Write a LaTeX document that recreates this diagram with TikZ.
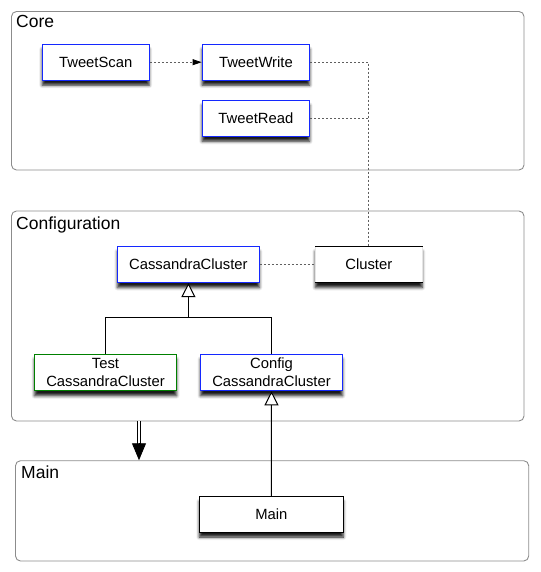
\documentclass[tikz,border=0pt]{standalone}
\usepackage{fontspec}
\setmainfont{Liberation Sans}
\usetikzlibrary{arrows.meta,shadows.blur,calc}
\definecolor{umlblue}{RGB}{20,40,255}
\definecolor{umlgreen}{RGB}{0,128,0}
\definecolor{grpgray}{RGB}{140,140,140}
\definecolor{dotgray}{RGB}{95,95,95}
\begin{document}
\begin{tikzpicture}[x=1pt,y=-1pt,
 grp/.style={draw=grpgray, line width=0.9pt, rounded corners=5pt, inner sep=0pt},
 grptitle/.style={anchor=base west, font=\fontsize{17.5}{20}\selectfont, inner sep=0pt},
 cls/.style={draw, fill=white, line width=1.1pt, minimum height=36pt, inner sep=0pt,
   font=\fontsize{14.8}{18}\selectfont, align=center,
   blur shadow={shadow xshift=0pt, shadow yshift=-5pt, shadow blur radius=3pt, shadow opacity=90}},
 bluecls/.style={cls, draw=umlblue},
 greencls/.style={cls, draw=umlgreen},
 dep/.style={dotgray, line width=0.8pt, dash pattern=on 2pt off 2pt},
 gen/.style={line width=1pt, -{Triangle[open, length=14pt, width=14pt, fill=white]}}
]
\useasboundingbox (0,0) rectangle (540,572);

% groups
\node[grp, minimum width=512.5pt, minimum height=158.5pt] (core) at (267.75,90.75) {};
\node[grp, minimum width=512.5pt, minimum height=210pt] (cfg) at (267.75,316) {};
\node[grp, minimum width=513.2pt, minimum height=100.3pt] (maing) at (272.1,510.85) {};
\node[grptitle] (coret) at (16,28) {Core};
\node[grptitle] (cfgt) at (16,229) {Configuration};
\node[grptitle] (maingt) at (21,478.7) {Main};

% classes
\node[bluecls, minimum width=107pt] (ts) at (95.7,62.2) {TweetScan};
\node[bluecls, minimum width=107.5pt] (tw) at (255.9,62.2) {TweetWrite};
\node[bluecls, minimum width=107.5pt] (tr) at (255.9,118.3) {TweetRead};
\node[bluecls, minimum width=142pt] (cc) at (188.4,264.5) {CassandraCluster};
\node[cls, draw=gray!20, line width=0.6pt, minimum width=107pt] (cl) at (368.8,264.5) {Cluster};
\draw[line width=1pt] (cl.north west) -- (cl.north east) (cl.south west) -- (cl.south east);
\node[greencls, minimum width=142pt, minimum height=36.5pt] (test) at (105.5,372.5) {Test\\CassandraCluster};
\node[bluecls, minimum width=142pt, minimum height=36.5pt] (conf) at (271.5,372.5) {Config\\CassandraCluster};
\node[cls, minimum width=144pt, minimum height=35.5pt] (main) at (271.3,514.3) {Main};

% dependencies
\draw[dep, -{Triangle[length=9pt, width=6pt, black]}] (ts.east) -- (tw.west);
\coordinate (bend) at (cl.north |- tw.east);
\draw[dep] (tw.east) -- (bend) -- (cl.north);
\draw[dep] (tr.east) -- (tr.east -| cl.north);
\draw[dep] (cc.east) -- (cl.west);

% generalizations
\coordinate (junc) at (188.4,317.7);
\draw[line width=1pt] (test.north) |- (junc) -| (conf.north);
\draw[gen] (junc) -- (cc.south);
\draw[gen] (main.north) -- (conf.south);

% package dependency (double arrow)
\coordinate (da) at (cfg.south -| 139,0);
\coordinate (db) at (maing.north -| 139,0);
\draw[line width=0.9pt, double, double distance=2.6pt, shorten >=15pt] (da) -- (db);
\draw[line width=0.9pt, -{Triangle[length=17pt, width=14pt]}] ($(db)+(0,-17)$) -- (db);
\end{tikzpicture}
\end{document}
